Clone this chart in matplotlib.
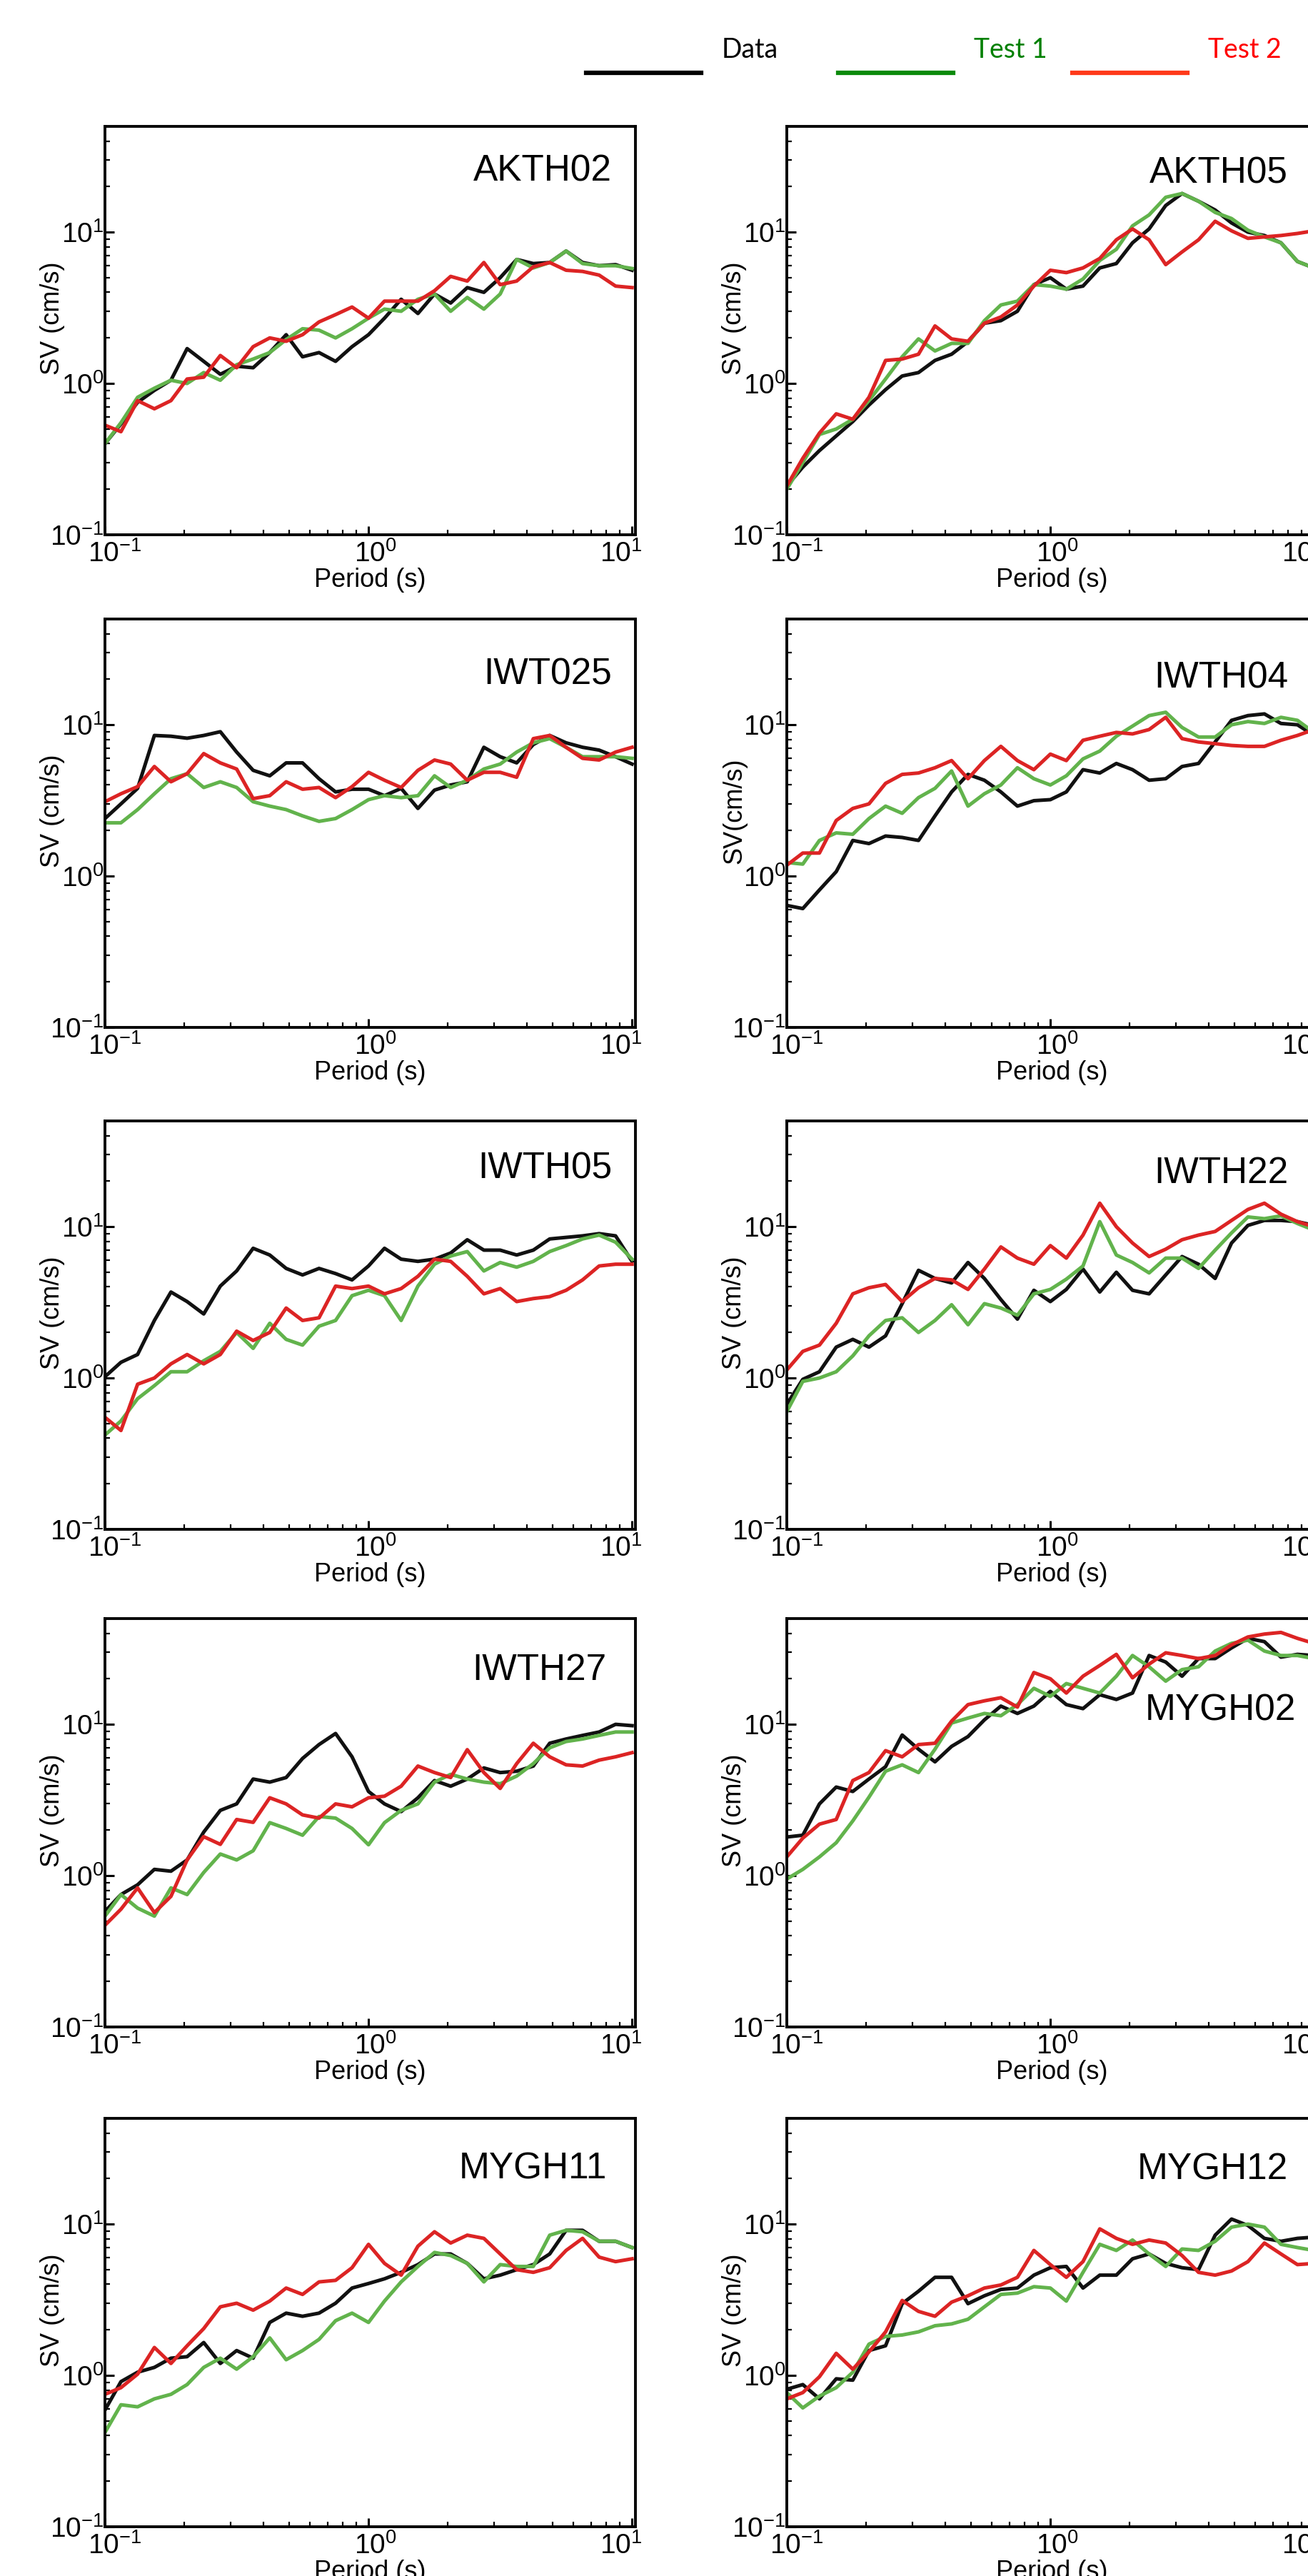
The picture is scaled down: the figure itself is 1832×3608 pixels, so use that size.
import matplotlib.pyplot as plt
from matplotlib.transforms import ScaledTranslation

# period grid (s), 1/16 decade steps
PERIOD = [0.100, 0.115, 0.133, 0.154, 0.178, 0.205, 0.237, 0.274, 0.316, 0.365, 0.422,
          0.487, 0.562, 0.649, 0.750, 0.866, 1.00, 1.15, 1.33, 1.54, 1.78, 2.05, 2.37,
          2.74, 3.16, 3.65, 4.22, 4.87, 5.62, 6.49, 7.50, 8.66, 10.0]

# SV (cm/s)
AKTH02_DATA = [0.40, 0.54, 0.75, 0.90, 1.05, 1.70, 1.40, 1.15, 1.30, 1.27, 1.60, 2.10, 1.50, 1.60, 1.40, 1.75, 2.10,
               2.70, 3.60, 2.90, 3.90, 3.40, 4.30, 4.00, 5.00, 6.60, 6.20, 6.30, 7.50, 6.30, 6.00, 6.10, 5.60]
AKTH02_TEST1 = [0.40, 0.55, 0.81, 0.93, 1.05, 1.00, 1.18, 1.05, 1.33, 1.45, 1.60, 1.95, 2.30, 2.25, 2.00, 2.30, 2.70,
                3.10, 3.00, 3.60, 3.90, 3.00, 3.70, 3.10, 3.90, 6.60, 5.80, 6.30, 7.50, 6.20, 6.00, 6.00, 5.75]
AKTH02_TEST2 = [0.53, 0.48, 0.77, 0.68, 0.77, 1.07, 1.10, 1.53, 1.27, 1.75, 2.00, 1.90, 2.10, 2.55, 2.85, 3.20, 2.70,
                3.50, 3.50, 3.50, 4.10, 5.10, 4.75, 6.30, 4.50, 4.75, 5.90, 6.30, 5.60, 5.50, 5.20, 4.40, 4.30]

AKTH05_DATA = [0.21, 0.28, 0.36, 0.45, 0.56, 0.72, 0.91, 1.12, 1.18, 1.42, 1.56, 1.89, 2.50, 2.60, 3.00, 4.50, 5.00,
               4.20, 4.40, 5.80, 6.20, 8.50, 10.5, 15.0, 18.0, 16.0, 14.0, 11.5, 10.0, 9.50, 8.50, 6.40, 5.80]
AKTH05_TEST1 = [0.20, 0.30, 0.46, 0.50, 0.58, 0.77, 1.07, 1.50, 1.97, 1.64, 1.84, 1.84, 2.60, 3.30, 3.50, 4.50, 4.40,
                4.20, 4.90, 6.50, 7.70, 11.0, 13.0, 17.0, 18.0, 16.0, 13.5, 12.3, 10.3, 9.30, 8.50, 6.40, 5.80]
AKTH05_TEST2 = [0.21, 0.32, 0.47, 0.63, 0.58, 0.81, 1.42, 1.45, 1.56, 2.40, 1.97, 1.90, 2.50, 2.75, 3.30, 4.40, 5.60,
                5.40, 5.80, 6.70, 8.90, 10.5, 8.90, 6.10, 7.40, 8.90, 11.8, 10.2, 9.10, 9.30, 9.50, 9.80, 10.2]

IWT025_DATA = [2.40, 3.00, 3.80, 8.50, 8.40, 8.15, 8.50, 9.00, 6.60, 5.00, 4.60, 5.60, 5.60, 4.40, 3.60, 3.75, 3.75,
               3.40, 3.80, 2.80, 3.70, 4.00, 4.20, 7.10, 6.15, 5.60, 7.40, 8.50, 7.60, 7.10, 6.80, 6.15, 5.50]
IWT025_TEST1 = [2.25, 2.25, 2.75, 3.50, 4.40, 4.75, 3.85, 4.20, 3.85, 3.10, 2.90, 2.75, 2.50, 2.30, 2.40, 2.75, 3.20,
                3.40, 3.30, 3.40, 4.60, 3.85, 4.30, 5.10, 5.50, 6.60, 7.60, 8.10, 7.10, 6.15, 6.15, 6.15, 6.00]
IWT025_TEST2 = [3.10, 3.50, 3.90, 5.30, 4.20, 4.75, 6.45, 5.60, 5.10, 3.25, 3.40, 4.20, 3.75, 3.85, 3.30, 3.90, 4.85,
                4.30, 3.85, 5.00, 5.85, 5.50, 4.30, 4.85, 4.85, 4.50, 8.10, 8.50, 7.10, 6.00, 5.85, 6.60, 7.10]

IWTH04_DATA = [0.64, 0.61, 0.81, 1.07, 1.72, 1.64, 1.84, 1.80, 1.72, 2.50, 3.60, 4.70, 4.30, 3.60, 2.90, 3.15, 3.20,
               3.60, 5.05, 4.80, 5.55, 5.05, 4.30, 4.40, 5.30, 5.55, 7.70, 10.7, 11.5, 11.8, 10.2, 10.0, 8.50]
IWTH04_TEST1 = [1.23, 1.20, 1.72, 1.93, 1.89, 2.40, 2.90, 2.60, 3.30, 3.80, 4.95, 2.90, 3.50, 4.00, 5.20, 4.40, 4.00,
                4.60, 5.95, 6.70, 8.40, 9.80, 11.5, 12.1, 9.60, 8.30, 8.30, 10.0, 10.5, 10.2, 11.2, 10.7, 8.90]
IWTH04_TEST2 = [1.18, 1.42, 1.42, 2.33, 2.80, 3.00, 4.10, 4.70, 4.80, 5.20, 5.80, 4.40, 5.80, 7.20, 5.80, 5.05, 6.40,
                5.80, 7.90, 8.40, 8.90, 8.70, 9.30, 11.2, 8.10, 7.70, 7.50, 7.30, 7.20, 7.20, 7.90, 8.50, 9.30]

IWTH05_DATA = [1.02, 1.27, 1.43, 2.40, 3.70, 3.20, 2.65, 4.05, 5.10, 7.20, 6.50, 5.30, 4.80, 5.30, 4.90, 4.45, 5.50,
               7.20, 6.10, 5.90, 6.10, 6.70, 8.20, 7.00, 7.00, 6.50, 7.00, 8.30, 8.50, 8.70, 9.00, 8.70, 5.90]
IWTH05_TEST1 = [0.42, 0.52, 0.73, 0.89, 1.10, 1.10, 1.30, 1.50, 2.00, 1.57, 2.30, 1.80, 1.65, 2.20, 2.40, 3.50, 3.80,
                3.50, 2.40, 4.05, 5.65, 6.40, 6.85, 5.10, 5.80, 5.40, 5.90, 6.85, 7.50, 8.30, 8.80, 7.90, 6.10]
IWTH05_TEST2 = [0.55, 0.45, 0.91, 1.00, 1.24, 1.43, 1.24, 1.43, 2.04, 1.77, 2.00, 2.90, 2.40, 2.50, 4.05, 3.90, 4.05,
                3.60, 3.90, 4.70, 6.10, 5.90, 4.70, 3.60, 3.90, 3.20, 3.35, 3.45, 3.80, 4.45, 5.50, 5.65, 5.65]

IWTH22_DATA = [0.67, 0.98, 1.10, 1.60, 1.80, 1.60, 1.90, 3.10, 5.15, 4.55, 4.25, 5.80, 4.55, 3.30, 2.45, 3.80, 3.20,
               3.85, 5.25, 3.70, 5.00, 3.80, 3.60, 4.80, 6.35, 5.65, 4.55, 7.80, 10.2, 11.0, 11.0, 10.8, 10.2]
IWTH22_TEST1 = [0.60, 0.95, 1.00, 1.10, 1.40, 1.90, 2.40, 2.50, 2.00, 2.40, 3.05, 2.25, 3.10, 2.90, 2.60, 3.60, 3.85,
                4.50, 5.50, 10.8, 6.50, 5.80, 4.95, 6.20, 6.20, 5.30, 7.00, 9.10, 11.6, 11.3, 11.8, 10.5, 9.50]
IWTH22_TEST2 = [1.13, 1.50, 1.65, 2.30, 3.60, 3.95, 4.15, 3.20, 3.95, 4.55, 4.45, 3.85, 5.25, 7.35, 6.20, 5.65, 7.50,
                6.20, 8.80, 14.3, 10.0, 7.80, 6.35, 7.10, 8.20, 8.80, 9.30, 11.0, 13.0, 14.3, 12.1, 10.8, 10.0]

IWTH27_DATA = [0.58, 0.75, 0.87, 1.10, 1.07, 1.27, 1.94, 2.70, 2.98, 4.35, 4.15, 4.45, 5.95, 7.35, 8.70, 6.10, 3.60,
               2.98, 2.65, 3.27, 4.25, 3.90, 4.35, 5.15, 4.80, 4.90, 5.30, 7.50, 8.00, 8.45, 8.90, 10.0, 9.80]
IWTH27_TEST1 = [0.54, 0.75, 0.61, 0.54, 0.83, 0.75, 1.05, 1.39, 1.27, 1.46, 2.24, 2.05, 1.85, 2.46, 2.40, 2.05, 1.60,
                2.24, 2.70, 2.98, 4.15, 4.67, 4.35, 4.15, 4.05, 4.55, 5.50, 7.00, 7.70, 8.00, 8.45, 8.90, 8.90]
IWTH27_TEST2 = [0.47, 0.60, 0.83, 0.57, 0.73, 1.27, 1.81, 1.61, 2.35, 2.25, 3.27, 2.98, 2.52, 2.40, 2.98, 2.85, 3.27,
                3.35, 3.90, 5.30, 4.80, 4.45, 6.80, 4.80, 3.77, 5.50, 7.50, 6.10, 5.40, 5.30, 5.80, 6.10, 6.50]

MYGH02_DATA = [1.80, 1.85, 2.98, 3.85, 3.60, 4.35, 5.25, 8.50, 6.85, 5.65, 7.15, 8.30, 10.7, 13.2, 11.8, 13.2, 16.5,
               13.5, 12.7, 15.7, 14.6, 16.1, 28.5, 25.8, 20.8, 27.2, 27.2, 32.0, 37.0, 35.2, 27.8, 29.0, 28.5]
MYGH02_TEST1 = [0.95, 1.10, 1.33, 1.65, 2.30, 3.30, 4.90, 5.40, 4.80, 6.85, 10.2, 11.0, 11.8, 11.4, 13.5, 17.3, 15.3,
                18.6, 17.3, 16.1, 20.8, 28.5, 24.0, 19.3, 23.0, 24.0, 30.5, 34.3, 36.0, 30.5, 28.5, 28.5, 27.2]
MYGH02_TEST2 = [1.33, 1.77, 2.19, 2.35, 4.25, 4.80, 6.70, 6.10, 7.35, 7.50, 10.5, 13.5, 14.3, 15.0, 13.0, 22.0, 20.0,
                16.1, 20.8, 24.5, 29.0, 20.3, 25.0, 29.7, 28.5, 27.2, 28.5, 33.5, 37.8, 39.5, 40.5, 37.0, 34.3]

MYGH11_DATA = [0.59, 0.91, 1.05, 1.13, 1.30, 1.33, 1.65, 1.20, 1.46, 1.30, 2.24, 2.58, 2.46, 2.58, 3.00, 3.78, 4.05,
               4.35, 4.80, 5.40, 6.35, 6.35, 5.50, 4.35, 4.60, 5.00, 5.40, 6.35, 9.10, 9.10, 7.70, 7.70, 7.00]
MYGH11_TEST1 = [0.42, 0.64, 0.62, 0.70, 0.75, 0.87, 1.13, 1.30, 1.10, 1.33, 1.77, 1.27, 1.46, 1.73, 2.30, 2.58, 2.24,
                3.10, 4.15, 5.25, 6.50, 6.20, 5.50, 4.15, 5.40, 5.25, 5.25, 8.45, 9.10, 8.90, 7.70, 7.70, 7.00]
MYGH11_TEST2 = [0.75, 0.83, 1.02, 1.53, 1.20, 1.57, 2.04, 2.84, 3.00, 2.70, 3.10, 3.78, 3.43, 4.15, 4.25, 5.15, 7.35,
                5.50, 4.60, 7.15, 8.90, 7.50, 8.45, 8.05, 6.35, 5.00, 4.80, 5.15, 6.70, 8.05, 6.05, 5.65, 5.90]

MYGH12_DATA = [0.81, 0.87, 0.70, 0.95, 0.93, 1.46, 1.57, 2.98, 3.60, 4.45, 4.45, 2.98, 3.36, 3.70, 3.78, 4.60, 5.15,
               5.25, 3.78, 4.60, 4.60, 5.90, 6.35, 5.50, 5.15, 5.00, 8.45, 10.8, 9.80, 8.05, 7.70, 8.05, 8.20]
MYGH12_TEST1 = [0.77, 0.61, 0.73, 0.83, 1.05, 1.61, 1.81, 1.85, 1.94, 2.13, 2.19, 2.35, 2.84, 3.43, 3.50, 3.86, 3.78,
                3.10, 4.80, 7.35, 6.70, 7.85, 6.35, 5.25, 6.85, 6.70, 7.70, 9.55, 10.0, 9.55, 7.35, 7.00, 6.70]
MYGH12_TEST2 = [0.70, 0.77, 0.98, 1.40, 1.10, 1.43, 1.94, 3.13, 2.65, 2.46, 3.05, 3.36, 3.78, 3.96, 4.45, 6.70, 5.40,
                4.45, 5.65, 9.30, 8.05, 7.35, 7.85, 7.50, 6.20, 4.80, 4.60, 4.90, 5.65, 7.50, 6.35, 5.40, 5.50]

STATIONS = ['AKTH02', 'AKTH05', 'IWT025', 'IWTH04', 'IWTH05', 'IWTH22', 'IWTH27', 'MYGH02', 'MYGH11', 'MYGH12']
SERIES = {
    'AKTH02': (AKTH02_DATA, AKTH02_TEST1, AKTH02_TEST2),
    'AKTH05': (AKTH05_DATA, AKTH05_TEST1, AKTH05_TEST2),
    'IWT025': (IWT025_DATA, IWT025_TEST1, IWT025_TEST2),
    'IWTH04': (IWTH04_DATA, IWTH04_TEST1, IWTH04_TEST2),
    'IWTH05': (IWTH05_DATA, IWTH05_TEST1, IWTH05_TEST2),
    'IWTH22': (IWTH22_DATA, IWTH22_TEST1, IWTH22_TEST2),
    'IWTH27': (IWTH27_DATA, IWTH27_TEST1, IWTH27_TEST2),
    'MYGH02': (MYGH02_DATA, MYGH02_TEST1, MYGH02_TEST2),
    'MYGH11': (MYGH11_DATA, MYGH11_TEST1, MYGH11_TEST2),
    'MYGH12': (MYGH12_DATA, MYGH12_TEST1, MYGH12_TEST2),
}

# station label placement (axes fraction, right edge / vertical centre)
LABEL_POS = {
    'AKTH02': (0.956, 0.890), 'AKTH05': (0.945, 0.885),
    'IWT025': (0.956, 0.864), 'IWTH04': (0.945, 0.855),
    'IWTH05': (0.956, 0.883), 'IWTH22': (0.945, 0.872),
    'IWTH27': (0.945, 0.874), 'MYGH02': (0.960, 0.775),
    'MYGH11': (0.946, 0.876), 'MYGH12': (0.945, 0.874),
}

plt.rcParams['font.family'] = ['Liberation Sans', 'DejaVu Sans']
plt.rcParams['mathtext.fontset'] = 'custom'
plt.rcParams['mathtext.rm'] = 'Liberation Sans'
plt.rcParams['mathtext.it'] = 'Liberation Sans:italic'
plt.rcParams['mathtext.bf'] = 'Liberation Sans:bold'

W, H = 1833, 3608
fig = plt.figure(figsize=(W / 100, H / 100), dpi=100)

COL_X = [147, 1102]
ROW_Y = [177, 867, 1570, 2267, 2967]
AX_W, AX_H = 743, 572

C_DATA = '#111111'
C_T1 = '#62b34c'
C_T2 = '#dc2424'

# horizontal nudges (px) of the x tick labels at 0.1, 1, 10
XLAB_SHIFT = [14, 10, -16]

for i, name in enumerate(STATIONS):
    row, col = divmod(i, 2)
    x0, y0 = COL_X[col], ROW_Y[row]
    ax = fig.add_axes([x0 / W, 1 - (y0 + AX_H) / H, AX_W / W, AX_H / H])
    data, t1, t2 = SERIES[name]
    ax.plot(PERIOD, data, color=C_DATA, lw=3.6)
    ax.plot(PERIOD, t1, color=C_T1, lw=3.6)
    ax.plot(PERIOD, t2, color=C_T2, lw=3.6)
    ax.set_xscale('log')
    ax.set_yscale('log')
    ax.set_xlim(0.1, 10.3)
    ax.set_ylim(0.1, 50)
    ax.set_xticks([0.1, 1, 10])
    ax.set_yticks([0.1, 1, 10])
    for s in ax.spines.values():
        s.set_linewidth(2.8)
    ax.tick_params(which='both', direction='in', top=False, right=False, labelsize=28)
    ax.tick_params(which='major', length=9, width=2.2)
    ax.tick_params(which='minor', length=5, width=1.6)
    ax.tick_params(axis='x', pad=6)
    ax.tick_params(axis='y', pad=1)
    for lbl, dx in zip(ax.get_xticklabels(), XLAB_SHIFT):
        lbl.set_transform(lbl.get_transform() + ScaledTranslation(dx / 100, 0, fig.dpi_scale_trans))
    ax.set_xlabel('Period (s)', fontsize=26, labelpad=0)
    ylab = 'SV(cm/s)' if name == 'IWTH04' else 'SV (cm/s)'
    ax.set_ylabel(ylab, fontsize=26)
    ax.yaxis.set_label_coords(-0.075, 0.53)
    lx, ly = LABEL_POS[name]
    ax.text(lx, ly, name, transform=ax.transAxes, ha='right', va='center', fontsize=37)

# legend strip at the top
leg = [('Data', '#000000', '#000000', 821), ('Test 1', '#0a8a0a', '#008000', 1174),
       ('Test 2', '#ff3a1a', '#ff0000', 1502)]
for label, lc, tc, x in leg:
    fig.add_artist(plt.Line2D([x / W, (x + 161) / W], [1 - 102 / H, 1 - 102 / H],
                              color=lc, lw=4.5, transform=fig.transFigure))
    fig.text((x + 190) / W, 1 - 70 / H, label, color=tc, fontsize=27,
             family=['Lato', 'DejaVu Sans'], ha='left', va='center')

fig.savefig('out.png', dpi=100)
